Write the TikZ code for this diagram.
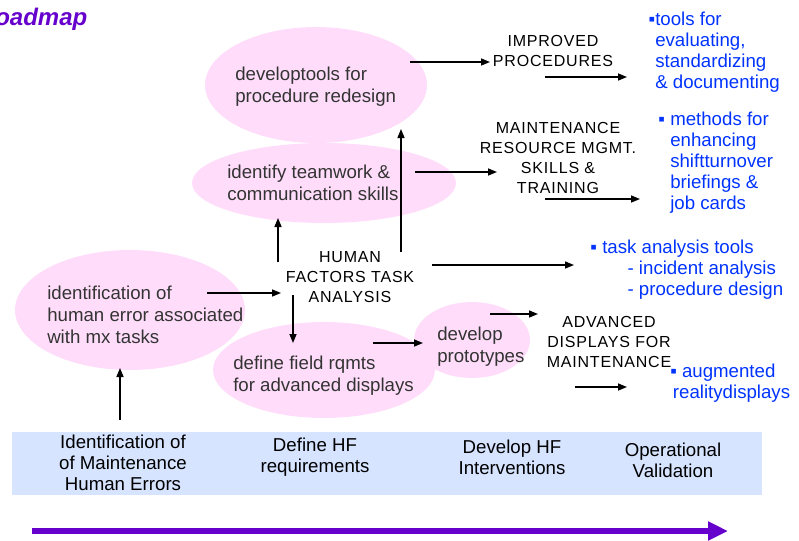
\documentclass[tikz,border=0pt]{standalone}
\usepackage{fontspec}
\setmainfont{Liberation Sans}
\newfontfamily\capsfont[LetterSpace=5]{Liberation Sans}
\usetikzlibrary{shapes.geometric,arrows.meta,positioning}
\definecolor{blobpink}{RGB}{255,221,250}
\definecolor{bandblue}{RGB}{214,228,255}
\definecolor{noteblue}{RGB}{0,51,255}
\definecolor{roadpurple}{RGB}{102,0,204}
\begin{document}
\begin{tikzpicture}[x=0.75pt,y=-0.75pt,
    blob/.style={ellipse,fill=blobpink,inner sep=0pt},
    txt/.style={align=left,anchor=west,inner sep=0pt,text=black!80,font=\fontsize{14}{16.5}\selectfont},
    caps/.style={align=center,inner sep=0pt,font=\capsfont\fontsize{12}{15}\selectfont},
    note/.style={align=left,anchor=west,inner sep=0pt,text=noteblue,font=\fontsize{14}{15.75}\selectfont},
    phase/.style={align=center,inner sep=0pt,font=\fontsize{14}{15.75}\selectfont},
    arr/.style={-{Triangle[length=6.75pt,width=5.25pt]},line width=1.1pt}]
        \useasboundingbox (0,0) rectangle (799,540);
        \clip (0,0) rectangle (799,540);
        \node[font=\bfseries\itshape\fontsize{18}{20}\selectfont,text=roadpurple,anchor=base west,inner sep=0pt] (title) at (-5,25) {oadmap};
        \node[blob,minimum width=166.5pt,minimum height=87pt] (redesign) at (316,85) {};
        \node[blob,minimum width=198pt,minimum height=60pt] (teamwork) at (324,183) {};
        \node[blob,minimum width=172.5pt,minimum height=90pt] (errors) at (130,310) {};
        \node[blob,minimum width=166.5pt,minimum height=72pt] (fields) at (324,370) {};
        \node[blob,minimum width=87pt,minimum height=57pt] (proto) at (472,340) {};
        \node[fill=bandblue,minimum width=562.5pt,minimum height=47.25pt,inner sep=0pt] (band) at (387,463.5) {};
        \node[txt] (redesigntext) at (235,87) {developtools for\\procedure redesign};
        \node[txt] (teamworktext) at (227,183) {identify teamwork \&\\communication skills};
        \node[txt] (errorstext) at (47,315) {identification of\\human error associated\\with mx tasks};
        \node[txt] (fieldstext) at (233,376) {define field rqmts\\for advanced displays};
        \node[txt] (prototext) at (437,347) {develop\\prototypes};
        \node[caps] (hfta) at (350,277) {HUMAN\\FACTORS TASK\\ANALYSIS};
        \node[caps] (improved) at (553,51) {IMPROVED\\PROCEDURES};
        \node[caps] (mrm) at (558,158) {MAINTENANCE\\RESOURCE MGMT.\\SKILLS \&\\TRAINING};
        \node[caps] (advanced) at (609,342) {ADVANCED\\DISPLAYS FOR\\MAINTENANCE};
        \node[note] (toolsnote) at (655,52) {\llap{▪}tools for\\evaluating,\\standardizing\\\& documenting};
        \node[note] (methodsnote) at (670,163) {\llap{▪ }methods for\\enhancing\\shiftturnover\\briefings \&\\job cards};
        \node[note] (tasknote) at (602,270) {\llap{▪ }task analysis tools\\\hspace{19pt}- incident analysis\\\hspace{19pt}- procedure design};
        \node[note] (augnote) at (670,383) {▪ augmented\\\hspace{2pt}realitydisplays};
        \node[phase] (identify) at (123,463) {Identification of\\of Maintenance\\Human Errors};
        \node[phase] (define) at (315,457) {Define HF\\requirements};
        \node[phase] (develop) at (512,457) {Develop HF\\Interventions};
        \node[phase] (validate) at (673,460) {Operational\\Validation};
        \coordinate (redesignout) at (410,62);
        \coordinate (improvedin) at (490,62);
        \coordinate (improvedout) at (545,77);
        \coordinate (toolsin) at (627,77);
        \coordinate (teamworkout) at (415,172);
        \coordinate (mrmin) at (497,172);
        \coordinate (mrmout) at (545,199);
        \coordinate (methodsin) at (640,199);
        \coordinate (hftaup) at (401,252);
        \coordinate (redesignin) at (401,129);
        \coordinate (hftaout) at (432,265);
        \coordinate (taskin) at (574,265);
        \coordinate (hftaleft) at (278,262);
        \coordinate (teamworkin) at (278,218);
        \coordinate (errorsout) at (207,293);
        \coordinate (hftain) at (281,293);
        \coordinate (hftadown) at (293,295);
        \coordinate (fieldsin) at (293,343);
        \coordinate (bandup) at (120,420);
        \coordinate (errorsin) at (120,368);
        \coordinate (fieldsout) at (373,343);
        \coordinate (protoin) at (423,343);
        \coordinate (protoout) at (490,314);
        \coordinate (advancedin) at (538,314);
        \coordinate (advancedout) at (575,387);
        \coordinate (augin) at (627,387);
        \coordinate (start) at (32,531);
        \coordinate (finish) at (728,531);
        \draw[arr] (redesignout) -- (improvedin);
        \draw[arr] (improvedout) -- (toolsin);
        \draw[arr] (teamworkout) -- (mrmin);
        \draw[arr] (mrmout) -- (methodsin);
        \draw[arr] (hftaup) -- (redesignin);
        \draw[arr] (hftaout) -- (taskin);
        \draw[arr] (hftaleft) -- (teamworkin);
        \draw[arr] (errorsout) -- (hftain);
        \draw[arr] (hftadown) -- (fieldsin);
        \draw[arr] (bandup) -- (errorsin);
        \draw[arr] (fieldsout) -- (protoin);
        \draw[arr] (protoout) -- (advancedin);
        \draw[arr] (advancedout) -- (augin);
        \draw[roadpurple,line width=4.5pt,-{Triangle[length=15pt,width=13.5pt]}] (start) -- (finish);
    \end{tikzpicture}
\end{document}
